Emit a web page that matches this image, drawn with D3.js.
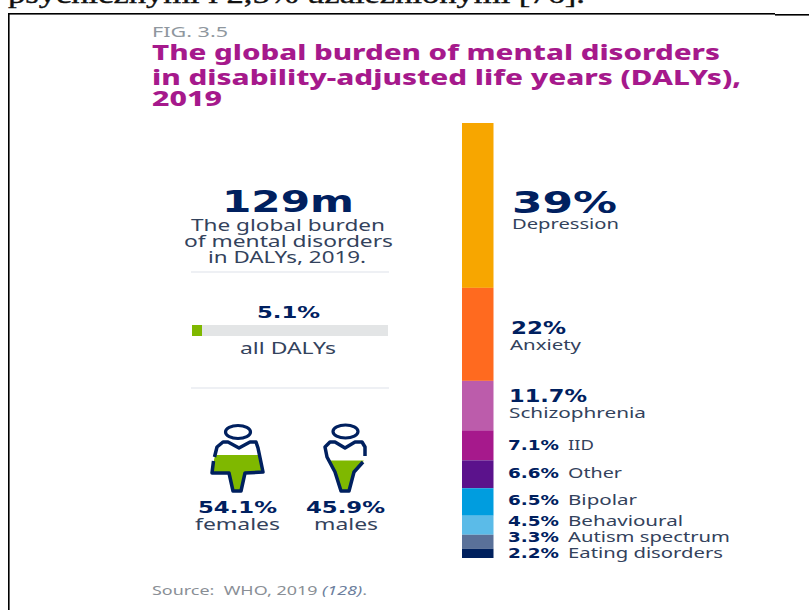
<!DOCTYPE html>
<html lang="en">
<head>
<meta charset="utf-8">
<script src="https://cdn.jsdelivr.net/npm/d3@7"></script>
<style>
  html, body { margin: 0; padding: 0; background: #fff; }
  svg { display: block; }
  text { font-family: "Noto Sans", "Open Sans", sans-serif; white-space: pre; }
</style>
</head>
<body>
<div id="chart"></div>
<script>
// Disorder categories and their share of the global burden, top to bottom
const categories = ["Depression", "Anxiety", "Schizophrenia", "IID", "Other", "Bipolar", "Behavioural", "Autism spectrum", "Eating disorders"];
const shares = [39, 22, 11.7, 7.1, 6.6, 6.5, 4.5, 3.3, 2.2];
const shareLabels = ["39%", "22%", "11.7%", "7.1%", "6.6%", "6.5%", "4.5%", "3.3%", "2.2%"];
const shareColors = ["#f7a600", "#ff6a1f", "#bc5cab", "#a6198c", "#5b128c", "#009ddf", "#5bbbe8", "#5a7199", "#00215e"];

// Share of all DALYs and the split by sex
const allDalys = 5.1;
const sexes = ["females", "males"];
const sexShares = [54.1, 45.9];

const titleLines = ["The global burden of mental disorders", "in disability-adjusted life years (DALYs),", "2019"];
const introLines = ["The global burden", "of mental disorders", "in DALYs, 2019."];

const NAVY = "#00205f", BODY = "#33425c", GREEN = "#7fb800", RULE = "#dde2ea", MAGENTA = "#a6198c";
const FIGURES = '"DejaVu Sans", sans-serif';

const svg = d3.select("#chart").append("svg").attr("width", 809).attr("height", 610);

// Text whose run is fitted to a set width, since the figure's type is set wide
function label(x, y, str, width, size, weight, fill, family) {
  const t = svg.append("text")
    .attr("x", x).attr("y", y)
    .attr("textLength", width).attr("lengthAdjust", "spacingAndGlyphs")
    .attr("font-size", size).attr("font-weight", weight).attr("fill", fill)
    .text(str);
  if (family) t.style("font-family", family);
  return t;
}

// Running text of the page the figure sits on, cut off at the top edge
label(8, 3, "psychicznymi i 2,5% uzależnionymi [76].", 577, 25, 400, "#111", '"Liberation Serif", serif')
  .attr("stroke", "#111").attr("stroke-width", 0.4);

// Frame around the figure
svg.append("rect").attr("x", 8).attr("y", 13).attr("width", 767).attr("height", 1.6).attr("fill", "#000");
svg.append("rect").attr("x", 775).attr("y", 14).attr("width", 34).attr("height", 1.6).attr("fill", "#000");
svg.append("rect").attr("x", 8).attr("y", 13).attr("width", 1.6).attr("height", 597).attr("fill", "#000");

// Heading
label(152, 37, "FIG. 3.5", 76, 14, 400, "#8f979e");
const titleLayout = [[60, 568], [85, 589], [106, 70]];
titleLines.forEach((line, i) => label(152, titleLayout[i][0], line, titleLayout[i][1], 20.5, 800, MAGENTA));

// Stacked bar of the nine disorder groups
const stack = d3.cumsum(shares);
const y = d3.scaleLinear().domain([0, d3.sum(shares)]).range([123, 558]);
svg.append("g").selectAll("rect").data(shares).join("rect")
  .attr("x", 462).attr("width", 31.5)
  .attr("y", (d, i) => y(stack[i] - d))
  .attr("height", d => y(d) - y(0))
  .attr("fill", (d, i) => shareColors[i]);

// Labels beside the bar: stacked for the three largest, inline for the rest
const stackedLayout = [
  { x: 512, vy: 213, vw: 105, vs: 31, ny: 229, nx: 512, nw: 107 },
  { x: 511, vy: 334, vw: 55, vs: 17, ny: 350, nx: 510, nw: 71 },
  { x: 509, vy: 402, vw: 78, vs: 17, ny: 418, nx: 509, nw: 137 }
];
stackedLayout.forEach((p, i) => {
  label(p.x, p.vy, shareLabels[i], p.vw, p.vs, 700, NAVY, FIGURES);
  label(p.nx, p.ny, categories[i], p.nw, 14, 400, BODY);
});
const inlineLayout = [[450, 25], [478, 53], [505, 68], [526, 114], [542, 161], [558, 154]];
inlineLayout.forEach((p, k) => {
  const i = k + 3;
  label(508, p[0], shareLabels[i], 51, 13.5, 700, NAVY, FIGURES);
  label(568, p[0], categories[i], p[1] + 1, 14, 400, BODY);
});

// Left column: headline figure
label(222, 212, "129m", 132, 31, 700, NAVY, FIGURES);
const introLayout = [[191, 231, 194], [184, 247, 209], [208, 263, 158]];
introLines.forEach((line, i) => label(introLayout[i][0], introLayout[i][1], line, introLayout[i][2], 15.5, 400, BODY));

svg.append("rect").attr("x", 191).attr("y", 271.5).attr("width", 198).attr("height", 1).attr("fill", RULE);
svg.append("rect").attr("x", 191).attr("y", 387.5).attr("width", 198).attr("height", 1).attr("fill", RULE);

// Share of all DALYs as a small progress bar
const progress = d3.scaleLinear().domain([0, 100]).range([192, 388]);
label(257, 318, allDalys + "%", 63, 16, 700, NAVY, FIGURES);
svg.append("rect").attr("x", progress(0)).attr("y", 325).attr("width", progress(100) - progress(0)).attr("height", 11).attr("fill", "#e3e5e6");
svg.append("rect").attr("x", progress(0)).attr("y", 325).attr("width", progress(allDalys) - progress(0)).attr("height", 11).attr("fill", GREEN);
label(240, 354, "all DALYs", 96, 15.5, 400, BODY);

// Figures filled up to a level set by their share
const bodyOutlines = [
  "M217,447 L223,442 L228,442 L239,448 L250,442 L256,442 L258,448 L263,472 L245,473 L241,491 L233,491 L229,473 L212,473 L214,460 L217,447 Z",
  "M325,447 L330,442 L335,442 L345,448 L355,442 L362,442 L365,447 L365,457 L363,462 L354,472 L349,491 L341,491 L335,472 L327,457 L325,447 Z"
];
// Open versions of the outlines leave the small gap in each figure's stroke
const bodyStrokes = [
  "M214.5,457 L217,447 L223,442 L228,442 L239,448 L250,442 L256,442 L258,448 L263,472 L245,473 L241,491 L233,491 L229,473 L212,473 L213.5,461",
  "M365,456 L365,447 L362,442 L355,442 L345,448 L335,442 L330,442 L325,447 L327,457 L335,472 L341,491 L349,491 L354,472 L363,462"
];
const heads = [[238, 432], [345.5, 431.5]];
const level = d3.scaleLinear().domain([0, 76]).range([492, 440]);
const sexLayout = [
  { vx: 198, vw: 79, nx: 195, nw: 85 },
  { vx: 306, vw: 79, nx: 314, nw: 64 }
];
const defs = svg.append("defs");
sexes.forEach((sex, i) => {
  defs.append("clipPath").attr("id", "fill-" + sex)
    .append("rect").attr("x", 200).attr("width", 180)
    .attr("y", level(sexShares[i])).attr("height", level(0) - level(sexShares[i]));
  svg.append("path").attr("d", bodyOutlines[i]).attr("fill", GREEN).attr("clip-path", `url(#fill-${sex})`);
  svg.append("path").attr("d", bodyStrokes[i]).attr("fill", "none").attr("stroke", NAVY)
    .attr("stroke-width", 3.5).attr("stroke-linejoin", "round").attr("stroke-linecap", "butt");
  svg.append("ellipse").attr("cx", heads[i][0]).attr("cy", heads[i][1]).attr("rx", 12.5).attr("ry", 6.5)
    .attr("fill", "none").attr("stroke", NAVY).attr("stroke-width", 3.2);
  label(sexLayout[i].vx, 513, sexShares[i] + "%", sexLayout[i].vw, 16, 700, NAVY, FIGURES);
  label(sexLayout[i].nx, 530, sex, sexLayout[i].nw, 15.5, 400, BODY);
});

// Source line
const source = label(152, 595, "", 215, 12.5, 400, "#8a8f96");
source.append("tspan").text("Source:  WHO, 2019 ");
source.append("tspan").attr("font-style", "italic").attr("fill", "#6d7f9e").text("(128)");
source.append("tspan").text(".");
</script>
</body>
</html>
